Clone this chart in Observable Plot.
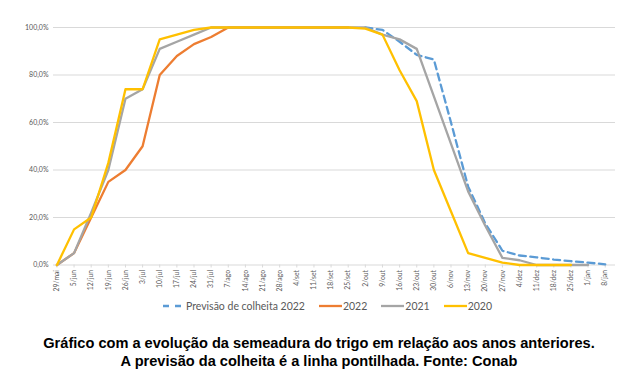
<!DOCTYPE html>
<html><head><meta charset="utf-8">
<script src="https://cdn.jsdelivr.net/npm/d3@7"></script>
<script src="https://cdn.jsdelivr.net/npm/@observablehq/plot@0.6"></script>
<style>
body{margin:0;background:#fff;}
#wrap{width:638px;height:388px;overflow:hidden;position:relative;}
.legend{height:20px;display:flex;justify-content:center;align-items:center;font-family:Lato,"Open Sans",sans-serif;font-size:10.5px;color:#595959;padding-left:17px;}
.legend .item{display:flex;align-items:center;margin:0 7px;}
.legend svg{margin-right:1px;}
.caption{margin-top:18px;font-family:"Liberation Sans",Arial,sans-serif;font-weight:bold;font-size:14.6px;line-height:18px;text-align:center;color:#000;}
</style></head><body><div id="wrap"></div>
<script>
const weeks = ["29/mai","5/jun","12/jun","19/jun","26/jun","3/jul","10/jul","17/jul","24/jul","31/jul","7/ago","14/ago","21/ago","28/ago","4/set","11/set","18/set","25/set","2/out","9/out","16/out","23/out","30/out","6/nov","13/nov","20/nov","27/nov","4/dez","11/dez","18/dez","25/dez","1/jan","8/jan"];
const yTicks = [0, 20, 40, 60, 80, 100];
const seriesNames = ["Previsão de colheita 2022", "2022", "2021", "2020"];
const seriesColors = ["#5B9BD5", "#ED7D31", "#A5A5A5", "#FFC000"];
const prev2022 = [null,null,null,null,null,null,null,null,null,null,null,null,null,null,null,null,null,null,
  100, 99, 94, 88.5, 86.5, 60, 33, 17.5, 6, 4, 3.2, 2.3, 1.6, 1, 0.3];
const v2022 = [0, 5, 20, 35, 40, 50, 80, 88, 93, 96, 100, 100, 100, 100, 100, 100, 100, 100,
  null,null,null,null,null,null,null,null,null,null,null,null,null,null,null];
const v2021 = [0, 5, 22, 40, 70, 74, 91, 94, 97, 100, 100, 100, 100, 100, 100, 100, 100, 100, 100,
  97, 95, 91, 71, 51, 31, 16.5, 3, 2, 0, 0, 0, 0, null];
const v2020 = [0, 15, 20, 43, 74, 74, 95, 97, 99, 100, 100, 100, 100, 100, 100, 100, 100, 100, 99.5,
  97, 82, 69, 40, 22.5, 5, 3, 1, 0, 0, 0, 0, null, null];

const allSeries = [prev2022, v2022, v2021, v2020];
const rows = [];
allSeries.forEach((vals, s) => vals.forEach((v, i) => rows.push({s, i, v})));

const fmt = d => d.toFixed(1).replace(".", ",") + "%";

const chart = Plot.plot({
  width: 638,
  height: 296,
  marginTop: 27,
  marginBottom: 31.5,
  marginLeft: 53,
  marginRight: 23,
  style: {fontFamily: "Lato, 'Open Sans', sans-serif", fontSize: "7px", color: "#595959", background: "#fff"},
  x: {type: "linear", domain: [-0.2, 32.6]},
  y: {domain: [0, 100]},
  marks: [
    Plot.ruleY(yTicks, {stroke: "#d9d9d9", strokeWidth: 1}),
    Plot.axisY({ticks: yTicks, tickFormat: fmt, tickSize: 0, tickPadding: 5, label: null, fontSize: 7}),
    Plot.axisX({ticks: d3.range(weeks.length), tickFormat: i => weeks[i], tickRotate: -90, tickSize: 3, tickPadding: 2, stroke: "#d9d9d9", label: null, fontSize: 6.8}),
    ...allSeries.map((vals, s) => Plot.line(rows.filter(r => r.s === s), {
      x: "i", y: "v", stroke: seriesColors[s], strokeWidth: 2.3,
      strokeDasharray: s === 0 ? "7,4.5" : null, curve: "linear"
    }))
  ]
});

const wrap = document.getElementById("wrap");
wrap.appendChild(chart);

const legend = document.createElement("div");
legend.className = "legend";
seriesNames.forEach((name, s) => {
  const item = document.createElement("div");
  item.className = "item";
  const sw = d3.create("svg").attr("width", s === 0 ? 22 : 23).attr("height", 6);
  sw.append("line").attr("x1", 0).attr("x2", s === 0 ? 22 : 23).attr("y1", 3).attr("y2", 3)
    .attr("stroke", seriesColors[s]).attr("stroke-width", 2.3)
    .attr("stroke-dasharray", s === 0 ? "6,6" : null);
  item.appendChild(sw.node());
  const t = document.createElement("span");
  t.textContent = name;
  item.appendChild(t);
  legend.appendChild(item);
});
wrap.appendChild(legend);

const cap = document.createElement("div");
cap.className = "caption";
cap.innerHTML = "Gráfico com a evolução da semeadura do trigo em relação aos anos anteriores.<br>A previsão da colheita é a linha pontilhada. Fonte: Conab";
wrap.appendChild(cap);
</script>
</body></html>
